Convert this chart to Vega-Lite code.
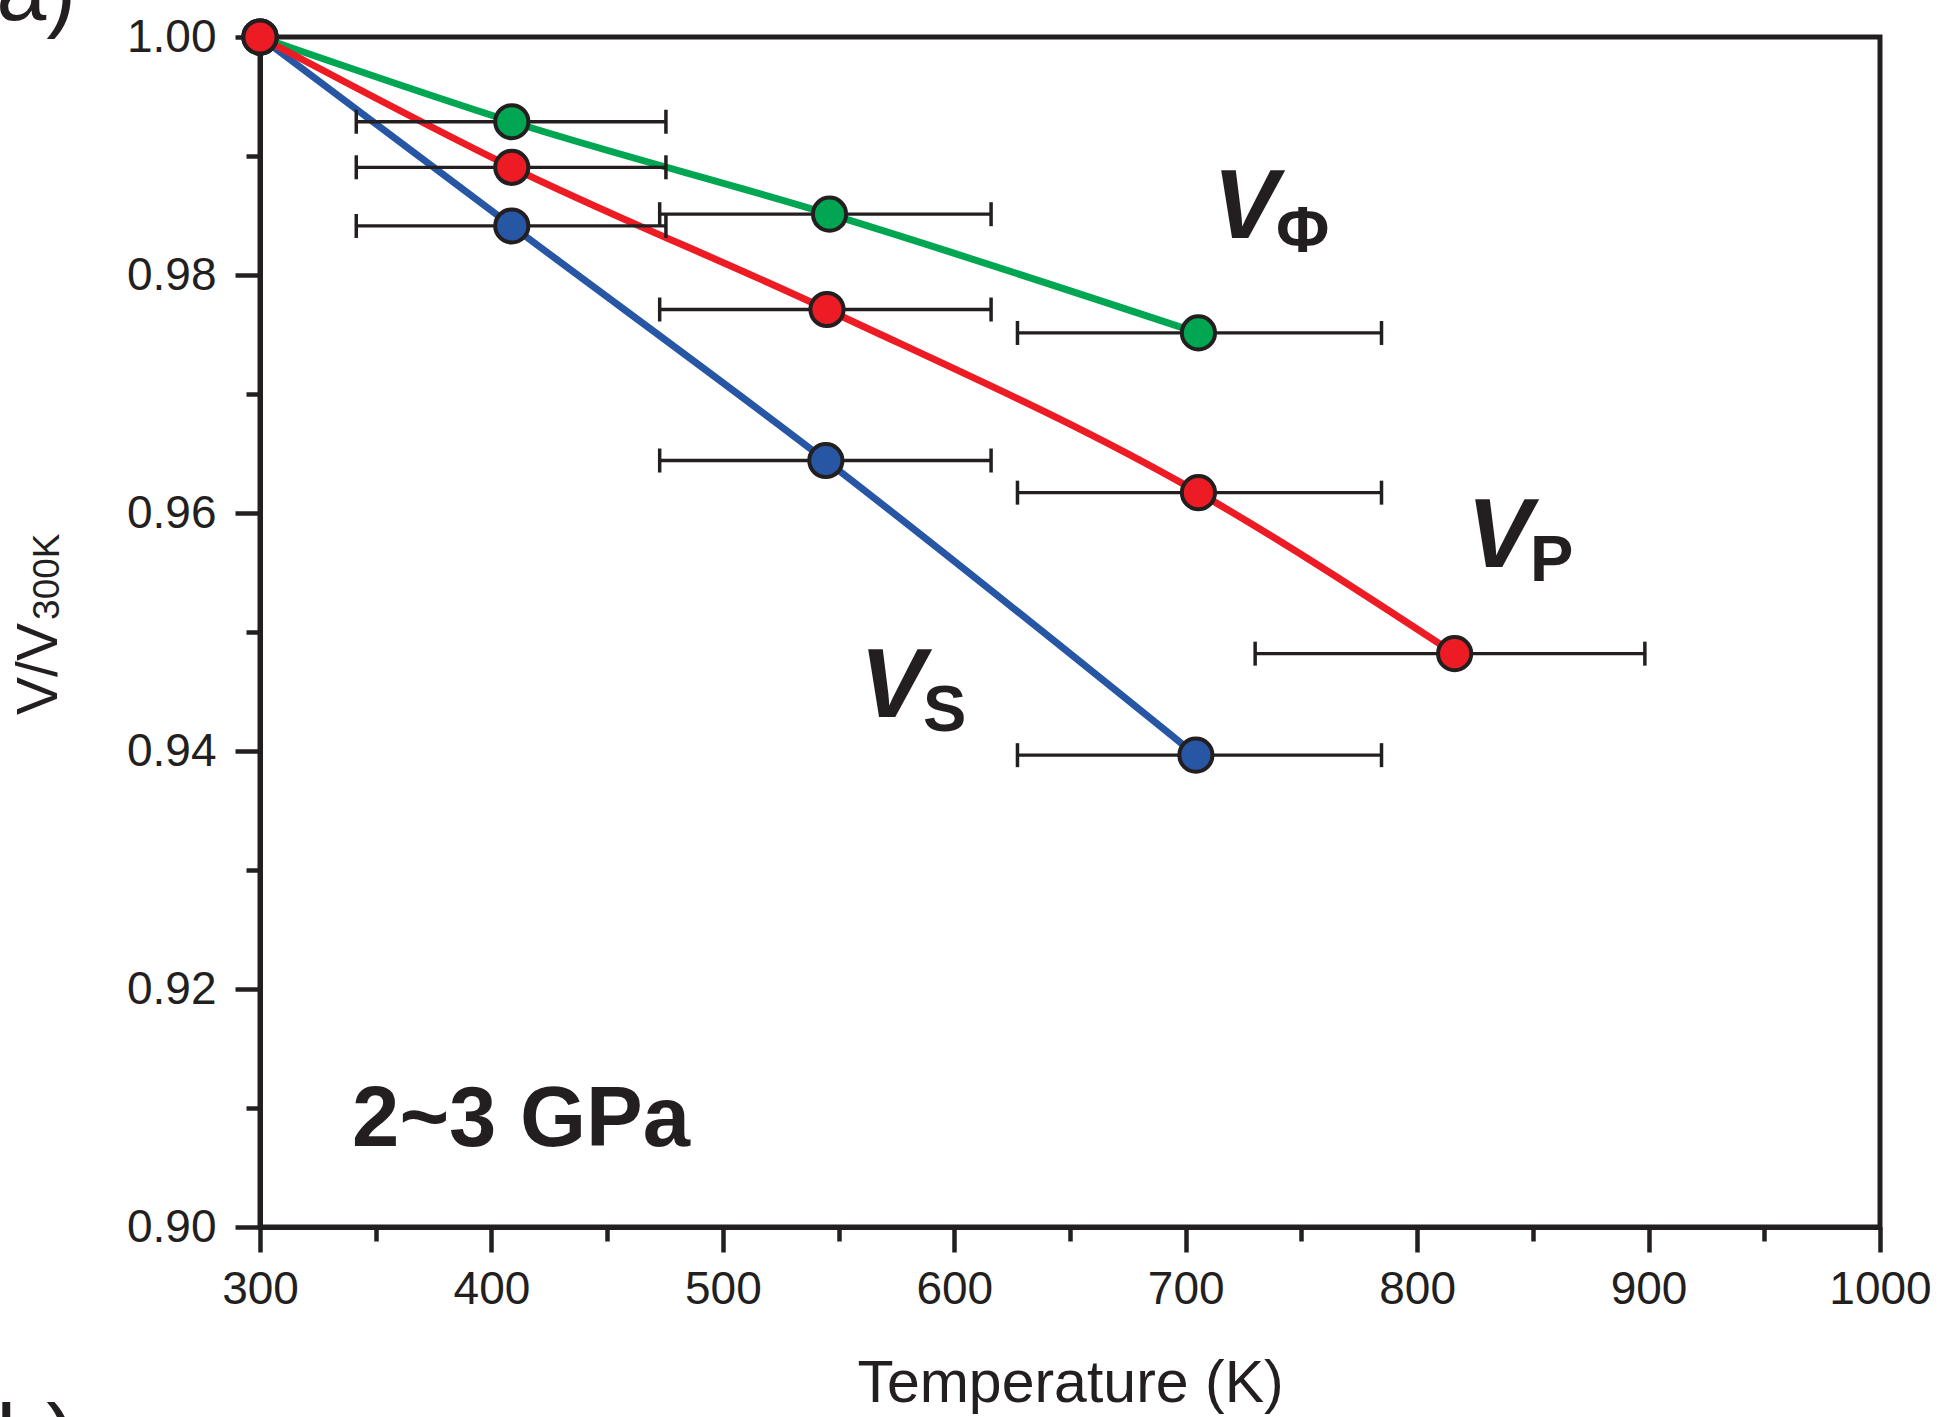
{
  "$schema": "https://vega.github.io/schema/vega-lite/v6.json",
  "width": 1620,
  "height": 1190,
  "autosize": {"type": "none"},
  "padding": {"left": 260, "top": 37, "right": 61, "bottom": 190},
  "background": "white",
  "config": {
    "view": {"stroke": "#231f20", "strokeWidth": 5},
    "font": "Liberation Sans",
    "axis": {
      "domainColor": "#231f20", "tickColor": "#231f20", "labelColor": "#231f20", "titleColor": "#231f20",
      "grid": false, "domainWidth": 5, "tickWidth": 4.5, "labelFlush": false, "labelOverlap": false, "labelBound": false,
      "labelFont": "Liberation Sans", "titleFont": "Liberation Sans"
    }
  },
  "datasets": {
    "pts": [
      {"series": "V_S", "T": 300, "V": 1.0},
      {"series": "V_S", "T": 408.8, "V": 0.98412, "lo": 341.6, "hi": 475.4},
      {"series": "V_S", "T": 544.5, "V": 0.96441, "lo": 472.7, "hi": 615.9},
      {"series": "V_S", "T": 704.4, "V": 0.93965, "lo": 627.3, "hi": 784.6},
      {"series": "V_Φ", "T": 300, "V": 1.0},
      {"series": "V_Φ", "T": 408.8, "V": 0.99288, "lo": 341.6, "hi": 475.4},
      {"series": "V_Φ", "T": 546.1, "V": 0.98511, "lo": 472.7, "hi": 615.9},
      {"series": "V_Φ", "T": 705.5, "V": 0.97513, "lo": 627.3, "hi": 784.6},
      {"series": "V_P", "T": 300, "V": 1.0},
      {"series": "V_P", "T": 408.8, "V": 0.98905, "lo": 341.6, "hi": 475.4},
      {"series": "V_P", "T": 545, "V": 0.9771, "lo": 472.7, "hi": 615.9},
      {"series": "V_P", "T": 705.5, "V": 0.96171, "lo": 627.3, "hi": 784.6},
      {"series": "V_P", "T": 816.2, "V": 0.94818, "lo": 730, "hi": 898.4}
    ],
    "labels": [
      {"main": "V", "sub": "Φ", "T": 711.8, "V": 0.98313},
      {"main": "V", "sub": "P", "T": 821.5, "V": 0.95546},
      {"main": "V", "sub": "S", "T": 559.3, "V": 0.94286}
    ]
  },
  "resolve": {"axis": {"x": "independent", "y": "independent"}},
  "layer": [
    {
      "data": {"name": "pts"},
      "mark": {"type": "line", "interpolate": "monotone", "strokeWidth": 7},
      "encoding": {
        "x": {"field": "T", "type": "quantitative",
              "scale": {"domain": [300, 1000], "nice": false, "zero": false},
              "axis": {"orient": "bottom", "values": [350, 450, 550, 650, 750, 850, 950], "labels": false, "tickSize": 14, "domain": false, "title": null}},
        "y": {"field": "V", "type": "quantitative",
              "scale": {"domain": [0.9, 1.0], "nice": false, "zero": false},
              "axis": {"orient": "left", "values": [0.91, 0.93, 0.95, 0.97, 0.99], "labels": false, "tickSize": 14, "domain": false, "title": null}},
        "color": {"field": "series", "type": "nominal",
                  "scale": {"domain": ["V_P", "V_Φ", "V_S"], "range": ["#ed1c24", "#00a651", "#2756a5"]},
                  "legend": null}
      }
    },
    {
      "data": {"name": "pts"},
      "transform": [{"filter": "isValid(datum.lo)"}],
      "mark": {"type": "rule", "color": "#231f20", "strokeWidth": 3.3},
      "encoding": {
        "x": {"field": "lo", "type": "quantitative", "axis": null},
        "x2": {"field": "hi"},
        "y": {"field": "V", "type": "quantitative", "axis": null}
      }
    },
    {
      "data": {"name": "pts"},
      "transform": [{"filter": "isValid(datum.lo)"}],
      "mark": {"type": "tick", "orient": "vertical", "color": "#231f20", "size": 24, "thickness": 3.5, "opacity": 1},
      "encoding": {
        "x": {"field": "lo", "type": "quantitative", "axis": null},
        "y": {"field": "V", "type": "quantitative", "axis": null}
      }
    },
    {
      "data": {"name": "pts"},
      "transform": [{"filter": "isValid(datum.lo)"}],
      "mark": {"type": "tick", "orient": "vertical", "color": "#231f20", "size": 24, "thickness": 3.5, "opacity": 1},
      "encoding": {
        "x": {"field": "hi", "type": "quantitative", "axis": null},
        "y": {"field": "V", "type": "quantitative", "axis": null}
      }
    },
    {
      "data": {"name": "pts"},
      "mark": {"type": "point", "shape": "circle", "filled": true, "size": 1100, "stroke": "#231f20", "strokeWidth": 4, "opacity": 1},
      "encoding": {
        "x": {"field": "T", "type": "quantitative",
              "axis": {"orient": "bottom", "values": [300, 400, 500, 600, 700, 800, 900, 1000], "format": "d", "labelFontSize": 46, "tickSize": 25, "labelPadding": 15.6,
                       "title": "Temperature (K)", "titleFontSize": 59, "titleFontWeight": "normal", "titleY": 174, "titleBaseline": "alphabetic"}},
        "y": {"field": "V", "type": "quantitative",
              "axis": {"orient": "left", "values": [0.9, 0.92, 0.94, 0.96, 0.98, 1.0], "format": ".2f", "labelFontSize": 46, "tickSize": 25, "labelPadding": 19, "title": null}},
        "color": {"field": "series", "type": "nominal", "legend": null}
      }
    },
    {
      "data": {"name": "labels"},
      "mark": {"type": "text", "font": "Liberation Sans", "fontWeight": "bold", "fontStyle": "italic", "fontSize": 98, "align": "left", "baseline": "alphabetic", "color": "#231f20"},
      "encoding": {
        "x": {"field": "T", "type": "quantitative", "axis": null},
        "y": {"field": "V", "type": "quantitative", "axis": null},
        "text": {"field": "main"}
      }
    },
    {
      "data": {"name": "labels"},
      "mark": {"type": "text", "font": "Liberation Sans", "fontWeight": "bold", "fontSize": 65, "align": "left", "baseline": "alphabetic", "dx": 63, "dy": 14, "color": "#231f20"},
      "encoding": {
        "x": {"field": "T", "type": "quantitative", "axis": null},
        "y": {"field": "V", "type": "quantitative", "axis": null},
        "text": {"field": "sub"}
      }
    },
    {
      "data": {"values": [{"note": "2~3 GPa", "T": 339.8, "V": 0.90681}]},
      "mark": {"type": "text", "font": "Liberation Sans", "fontWeight": "bold", "fontSize": 85, "align": "left", "baseline": "alphabetic", "color": "#231f20"},
      "encoding": {
        "x": {"field": "T", "type": "quantitative", "axis": null},
        "y": {"field": "V", "type": "quantitative", "axis": null},
        "text": {"field": "note"}
      }
    },
    {
      "data": {"values": [{"note": "a)", "T": 186, "V": 1.00143}, {"note": "b)", "T": 186, "V": 0.87975}]},
      "mark": {"type": "text", "font": "Liberation Sans", "fontSize": 90, "align": "left", "baseline": "alphabetic", "color": "#231f20"},
      "encoding": {
        "x": {"field": "T", "type": "quantitative", "axis": null},
        "y": {"field": "V", "type": "quantitative", "axis": null},
        "text": {"field": "note"}
      }
    },
    {
      "data": {"values": [{"t": "V/V", "T": 212.3, "V": 0.94303}]},
      "mark": {"type": "text", "font": "Liberation Sans", "fontSize": 57, "angle": 270, "align": "left", "baseline": "alphabetic", "color": "#231f20"},
      "encoding": {
        "x": {"field": "T", "type": "quantitative", "axis": null},
        "y": {"field": "V", "type": "quantitative", "axis": null},
        "text": {"field": "t"}
      }
    },
    {
      "data": {"values": [{"t": "300K", "T": 212.3, "V": 0.94303}]},
      "mark": {"type": "text", "font": "Liberation Sans", "fontSize": 37, "angle": 270, "align": "left", "baseline": "alphabetic", "dx": 95, "dy": 2, "color": "#231f20"},
      "encoding": {
        "x": {"field": "T", "type": "quantitative", "axis": null},
        "y": {"field": "V", "type": "quantitative", "axis": null},
        "text": {"field": "t"}
      }
    }
  ]
}
